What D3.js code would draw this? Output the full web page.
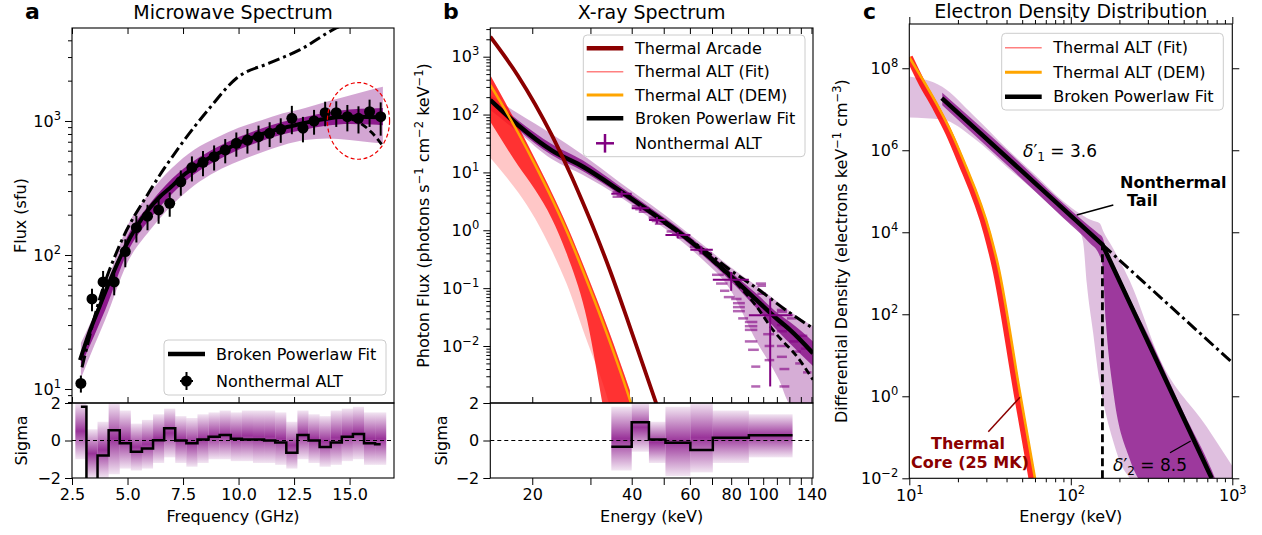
<!DOCTYPE html>
<html>
<head>
<meta charset="utf-8">
<script src="https://cdn.jsdelivr.net/npm/d3@7"></script>
<style>
  body { margin: 0; background: #fff; }
  text { font-family: "DejaVu Sans", sans-serif; fill: #000; }
</style>
</head>
<body>
<svg width="1262" height="535"></svg>
<script>
// ---------- panel a : microwave spectrum ----------
const mwFreq = [2.9, 3.4, 3.9, 4.4, 4.9, 5.4, 5.9, 6.4, 6.9, 7.4, 7.9, 8.4, 8.9, 9.4, 9.9, 10.4, 10.9, 11.4, 11.9, 12.4, 12.9, 13.4, 13.9, 14.4, 14.9, 15.4, 15.9, 16.4];
const mwFlux = [11, 47, 63, 63, 106, 160, 195, 217, 243, 352, 449, 492, 542, 608, 681, 721, 764, 809, 867, 1047, 883, 1000, 1153, 1153, 1077, 1047, 1173, 1077];
const mwErr  = [1.6, 9, 13, 13, 25, 36, 42, 46, 50, 75, 95, 105, 115, 125, 140, 150, 160, 170, 180, 250, 190, 210, 240, 250, 240, 240, 270, 300];
const mwResid = [1.8, -3, -0.8, 0.55, -0.15, -0.6, -0.42, 0.02, 0.65, 0.0, -0.15, 0.05, 0.2, 0.3, 0.1, 0.05, 0.05, 0.0, -0.1, -0.65, 0.3, 0.0, -0.35, -0.1, 0.2, 0.35, -0.15, -0.2];
const mwResLo = [-1.0, -2, -2, -1.8, -1.5, -1.6, -1.5, -1.2, -0.9, -1.2, -1.4, -1.2, -1.0, -1.0, -1.1, -1.1, -1.2, -1.2, -1.3, -1.5, -1.0, -1.2, -1.4, -1.3, -1.1, -1.0, -1.3, -1.3];
const mwResHi = [2, 0.6, 1.0, 2, 1.6, 0.9, 1.1, 1.4, 1.7, 1.3, 1.2, 1.4, 1.5, 1.6, 1.5, 1.6, 1.6, 1.6, 1.5, 1.0, 1.6, 1.4, 1.3, 1.6, 1.7, 1.8, 1.5, 1.5];

const mwFitFreq = [2.86, 3.3, 3.76, 4.3, 4.84, 5.41, 5.93, 6.46, 6.98, 7.43, 7.95, 8.4, 8.93, 9.46, 9.9, 10.43, 10.95, 11.4, 11.93, 12.45, 12.9, 13.43, 13.95, 14.4, 14.92, 15.37, 16.4];
const mwFitFlux = [16.4, 27, 42, 70, 110, 163, 217, 272, 324, 384, 443, 497, 557, 618, 673, 730, 787, 832, 882, 922, 961, 1005, 1040, 1066, 1077, 1077, 1066];
const mwAltFreq = [14.6, 15.4, 16.0, 16.5];
const mwAltFlux = [1070, 980, 820, 650];
const mwDashDotFreq = [2.95, 3.76, 4.66, 6.0, 7.36, 8.7, 9.92, 11.4, 12.75, 14.4, 14.8];
const mwDashDotFlux = [14.5, 48, 120, 300, 650, 1250, 2094, 2710, 3390, 4943, 5300];

const mwBandFreq = [2.9, 3.5, 4, 5, 6, 7, 8, 9, 10, 11, 12, 13, 14, 15, 16, 16.5];
const mwBandHi   = [22, 36, 58, 165, 290, 445, 610, 750, 890, 1010, 1140, 1250, 1400, 1550, 1720, 1800];
const mwBandLo   = [12, 21, 33, 88, 152, 235, 330, 420, 500, 580, 660, 720, 740, 720, 690, 680];
const mwCoreHi   = [19, 31, 51, 138, 240, 370, 505, 635, 760, 875, 985, 1070, 1160, 1220, 1240, 1250];
const mwCoreLo   = [15, 25, 39, 105, 185, 285, 400, 505, 610, 705, 795, 865, 925, 950, 940, 930];

// ---------- panel b : X-ray spectrum ----------
const arcadeE = [14.93, 18.1, 22.9, 26.3, 28.2, 31.0, 34.4, 39.0, 47.5];
const arcadeF = [2218, 470, 44.4, 8.5, 3.4, 0.93, 0.2, 0.0265, 0.001];
const demE = [14.93, 16.5, 18.14, 20.4, 22.9, 25.4, 28.9, 34.0, 39.5, 41];
const demF = [324, 125, 48, 13.5, 3.57, 0.98, 0.16, 0.0138, 0.00117, 0.0006];
const thFitE = [14.93, 16.5, 18.14, 20.4, 22.9, 25.4, 28.9, 34, 39.5];
const thFitHi = [480, 170, 62, 17, 4.5, 1.25, 0.21, 0.019, 0.0017];
const thFitCoreLo = [75, 30, 13, 5, 1.6, 0.4, 0.04, 0.0003, 0.00001];
const thFitLo = [18, 9, 4.5, 1.6, 0.45, 0.12, 0.015, 0.0011, 0.00003];

const bplE = [14.93, 18.1, 22.9, 28.5, 36.5, 46, 56, 66, 79, 95.5, 112, 120.5, 141.5];
const bplF = [178, 66, 24, 12.5, 5.0, 2.0, 0.9, 0.42, 0.17, 0.062, 0.027, 0.019, 0.0075];
const bplHi = [215, 105, 46, 20, 7.0, 2.7, 1.15, 0.55, 0.24, 0.11, 0.055, 0.04, 0.022];
const bplLo = [120, 50, 17, 9.0, 3.9, 1.55, 0.68, 0.3, 0.1, 0.012, 0.0025, 0.001, 0.0008];
const bplCoreHi = [200, 80, 31, 16, 6.0, 2.35, 1.05, 0.49, 0.2, 0.08, 0.035, 0.026, 0.012];
const bplCoreLo = [160, 56, 20, 10.5, 4.3, 1.75, 0.78, 0.36, 0.14, 0.045, 0.017, 0.011, 0.0045];
const xrDashDotE = [50, 60, 70, 80, 95.5, 117, 141.5];
const xrDashDotF = [1.35, 0.68, 0.36, 0.2, 0.1, 0.042, 0.0202];
const xrDashE = [70, 80, 95, 107, 129, 141.5];
const xrDashF = [0.3, 0.15, 0.05, 0.019, 0.0057, 0.0026];

// nonthermal ALT bins
const ntE0 = [34.7, 40, 45.1, 50.6, 60.2, 70.4, 90.5];
const ntE1 = [40, 45.1, 50.6, 60.2, 70.4, 90.5, 122.7];
const ntE  = [37.3, 42.5, 47.7, 55.1, 65, 80, 105];
const ntF  = [4.3, 2.4, 1.5, 0.83, 0.46, 0.14, 0.034];
const ntErr = [0.5, 0.25, 0.2, 0.1, 0.07, 0.05, 0.032];
const ntResid = [-0.33, 0.97, 0.06, -0.12, -0.5, 0.15, 0.28];
const ntResLo = [-1.6, -0.6, -1.2, -1.9, -1.7, -1.2, -0.9];
const ntResHi = [1.8, 2.0, 1.0, 1.8, 2.0, 1.6, 1.4];
// posterior sample dashes [E0, E1, flux]
const ntSamples = [
  [35, 38, 4.6], [36, 40, 4.0], [35, 37.5, 3.8], [40, 43, 2.6], [41, 45, 2.3], [42, 45, 2.1],
  [45, 48, 1.65], [46, 50.6, 1.45], [47, 50, 1.3], [51, 56, 0.95], [53, 58, 0.85], [55, 60, 0.75],
  [60, 65, 0.52], [62, 68, 0.46], [64, 70, 0.4], [70, 76, 0.17], [72, 78, 0.12], [74, 79, 0.09],
  [76, 82, 0.07], [80, 86, 0.065], [81, 88, 0.055], [81, 88, 0.047], [81, 88, 0.04], [84, 90, 0.03],
  [88, 96, 0.026], [88, 96, 0.022], [88, 96, 0.019], [88, 96, 0.012], [90, 97, 0.0086], [92, 98, 0.0044],
  [92, 98, 0.002], [95, 102, 0.12], [96, 102, 0.11], [96, 102, 0.08], [100, 108, 0.016], [101, 108, 0.01],
  [101, 108, 0.0057], [110, 118, 0.042], [110, 118, 0.039], [110, 118, 0.023], [110, 118, 0.018],
  [110, 118, 0.01], [110, 118, 0.0065], [112, 120, 0.004], [112, 120, 0.002], [118, 126, 0.03],
  [120, 128, 0.012], [122, 130, 0.008], [125, 132, 0.005], [128, 136, 0.015], [130, 138, 0.009], [132, 140, 0.0035]
];

// ---------- panel c : electron density (log10 values) ----------
const thCE = [10, 12.49, 15.1, 18.3, 21.6, 31.6, 35.6, 48.5, 60];
const thCRedE = [10, 12.0, 14.5, 17.6, 20.7, 30.3, 34.1, 46.5, 57.5];
const thCLog = [8.27, 7.634, 7.063, 6.415, 5.76, 3.976, 3.16, 0.073, -2];
const bpE = [15.9, 157, 745.6];
const bpLog = [7.27, 3.7, -2];
const bpExtE = [157, 1000];
const bpExtLog = [3.7, 0.82];
const breakE = 157;
const cBandE  = [10, 16, 25, 40, 60, 90, 114, 119.5, 125.5, 137.6, 150.9, 160, 180, 201.6, 232.8, 357, 694, 1000];
const cBandHi = [7.8, 7.55, 6.85, 6.05, 5.4, 4.75, 4.45, 4.4, 4.35, 4.28, 4.22, 4.0, 3.65, 3.3, 2.8, 0.9, -0.74, -1.7];
const cBandLo = [6.8, 6.75, 6.3, 5.6, 5.0, 4.35, 4.0, 3.73, 2.76, 1.54, 0.32, -0.2, -1.0, -1.6, -2.0, -2.5, -2.5, -2.5];
const cCoreE  = [16, 40, 90, 130, 150, 157, 165, 185, 230, 300, 500, 745, 800];
const cCoreHi = [7.4, 6.0, 4.7, 4.15, 3.95, 3.88, 3.6, 3.2, 2.4, 1.5, -0.4, -1.8, -2.1];
const cCoreLo = [7.1, 5.65, 4.35, 3.75, 3.45, 3.2, 1.8, 0.0, -1.5, -2.2, -2.2, -2.2, -2.2];

// ---------- ticks ----------
const aMajorY = [10, 100, 1000];
const aMinorY = [8, 9, 20, 30, 40, 50, 60, 70, 80, 90, 200, 300, 400, 500, 600, 700, 800, 900, 2000, 3000, 4000];
const aTicksX = [2.5, 5, 7.5, 10, 12.5, 15];
const resTicks = [-2, 0, 2];
const bMajorY = [0.01, 0.1, 1, 10, 100, 1000];
const bMinorY = [0.002, 0.003, 0.004, 0.005, 0.006, 0.007, 0.008, 0.009, 0.02, 0.03, 0.04, 0.05, 0.06, 0.07, 0.08, 0.09,
  0.2, 0.3, 0.4, 0.5, 0.6, 0.7, 0.8, 0.9, 2, 3, 4, 5, 6, 7, 8, 9, 20, 30, 40, 50, 60, 70, 80, 90, 200, 300, 400, 500, 600, 700, 800, 900, 2000, 3000];
const bTicksX = [20, 30, 40, 50, 60, 70, 80, 90, 100, 110, 120, 130, 140];
const bLabelsX = [20, 40, 60, 80, 100, 140];
const cMajorY = [0.01, 1, 100, 1e4, 1e6, 1e8];
const cMajorX = [10, 100, 1000];
const cMinorX = [20, 30, 40, 50, 60, 70, 80, 90, 200, 300, 400, 500, 600, 700, 800, 900];

// ---------- layout ----------
const svg = d3.select("svg");
const purple = "#800080";
const A = { x0: 72, x1: 394, y0: 28, y1: 403, r0: 403, r1: 478 };
const B = { x0: 490.3, x1: 813, y0: 28, y1: 403, r0: 403, r1: 478 };
const C = { x0: 909.3, x1: 1232.3, y0: 24, y1: 478.3 };

const xA = d3.scaleLinear().domain([2.5, 17]).range([A.x0, A.x1]);
const yA = d3.scaleLog().domain([7.86, 4943]).range([A.y1, A.y0]);
const yRes = d3.scaleLinear().domain([-2, 2]).range([A.r1, A.r0]);
const xB = d3.scaleLog().domain([14.93, 141.5]).range([B.x0, B.x1]);
const yB = d3.scaleLog().domain([1.035e-3, 3133]).range([B.y1, B.y0]);
const xC = d3.scaleLog().domain([10, 1000]).range([C.x0, C.x1]);
const yC = d3.scaleLog().domain([1e-2, 1.2e9]).range([C.y1, C.y0]);

const defs = svg.append("defs");
const grad = defs.append("linearGradient").attr("id", "resGrad")
  .attr("x1", 0).attr("y1", 0).attr("x2", 0).attr("y2", 1);
grad.append("stop").attr("offset", "0%").attr("stop-color", purple).attr("stop-opacity", 0.1);
grad.append("stop").attr("offset", "50%").attr("stop-color", purple).attr("stop-opacity", 0.8);
grad.append("stop").attr("offset", "100%").attr("stop-color", purple).attr("stop-opacity", 0.1);

function clipped(id, x0, y0, x1, y1) {
  defs.append("clipPath").attr("id", id).append("rect")
    .attr("x", x0).attr("y", y0).attr("width", x1 - x0).attr("height", y1 - y0);
  return svg.append("g").attr("clip-path", `url(#${id})`);
}

function axis(orient, scale, pos, values, size, fmt) {
  const maker = { left: d3.axisLeft, right: d3.axisRight, top: d3.axisTop, bottom: d3.axisBottom }[orient];
  const ax = maker(scale).tickValues(values).tickSize(size).tickPadding(4).tickFormat(fmt || (() => ""));
  const vertical = orient === "left" || orient === "right";
  const g = svg.append("g")
    .attr("transform", vertical ? `translate(${pos},0)` : `translate(0,${pos})`)
    .call(ax)
    .attr("font-family", "DejaVu Sans").attr("font-size", 16);
  g.select(".domain").remove();
  g.selectAll(".tick line").attr("stroke", "#000").attr("stroke-width", 1);
  g.selectAll(".tick text").attr("fill", "#000");
  return g;
}

function powLabels(g) {
  g.selectAll(".tick text").each(function (d) {
    const t = d3.select(this);
    const e = Math.round(Math.log10(d));
    t.text("10");
    t.append("tspan").attr("dy", -7).attr("font-size", 11.5).text(e < 0 ? "\u2212" + (-e) : e);
  });
}

function frame(x0, y0, x1, y1) {
  svg.append("rect").attr("x", x0).attr("y", y0).attr("width", x1 - x0).attr("height", y1 - y0)
    .attr("fill", "none").attr("stroke", "#000").attr("stroke-width", 1.1);
}

function vlabel(txt, cx, cy) {
  return svg.append("text").attr("transform", `translate(${cx},${cy}) rotate(-90)`)
    .attr("text-anchor", "middle").attr("dy", "0.35em").attr("font-size", 16).text(txt);
}

function legendBox(x, y, w, h) {
  svg.append("rect").attr("x", x).attr("y", y).attr("width", w).attr("height", h).attr("rx", 4)
    .attr("fill", "#fff").attr("fill-opacity", 0.85).attr("stroke", "#ccc").attr("stroke-width", 1);
}

function legendText(x, y, txt) {
  svg.append("text").attr("x", x).attr("y", y).attr("dy", "0.36em").attr("font-size", 16).text(txt);
}

// ================= panel a =================
const gA = clipped("clipA", A.x0, A.y0, A.x1, A.y1);
const bandA = d3.area().x(d => xA(d[0])).y0(d => yA(d[1])).y1(d => yA(d[2])).curve(d3.curveMonotoneX);
const lineA = d3.line().x(d => xA(d[0])).y(d => yA(d[1])).curve(d3.curveMonotoneX);

gA.append("path").datum(d3.zip(mwBandFreq, mwBandLo, mwBandHi)).attr("d", bandA)
  .attr("fill", purple).attr("fill-opacity", 0.35);
gA.append("path").datum(d3.zip(mwBandFreq, mwCoreLo, mwCoreHi)).attr("d", bandA)
  .attr("fill", purple).attr("fill-opacity", 0.85);
gA.append("path").datum(d3.zip(mwDashDotFreq, mwDashDotFlux)).attr("d", lineA)
  .attr("fill", "none").attr("stroke", "#000").attr("stroke-width", 3).attr("stroke-dasharray", "12,4,3,4");
gA.append("path").datum(d3.zip(mwFitFreq, mwFitFlux)).attr("d", lineA)
  .attr("fill", "none").attr("stroke", "#000").attr("stroke-width", 4);
gA.append("path").datum(d3.zip(mwAltFreq, mwAltFlux)).attr("d", lineA)
  .attr("fill", "none").attr("stroke", "#000").attr("stroke-width", 2.8).attr("stroke-dasharray", "7,4");

gA.selectAll(".err").data(d3.range(mwFreq.length)).enter().append("line")
  .attr("x1", i => xA(mwFreq[i])).attr("x2", i => xA(mwFreq[i]))
  .attr("y1", i => yA(mwFlux[i] + mwErr[i])).attr("y2", i => yA(Math.max(mwFlux[i] - mwErr[i], 1)))
  .attr("stroke", "#000").attr("stroke-width", 2);
gA.selectAll(".pt").data(d3.range(mwFreq.length)).enter().append("circle")
  .attr("cx", i => xA(mwFreq[i])).attr("cy", i => yA(mwFlux[i])).attr("r", 5.5).attr("fill", "#000");

svg.append("ellipse")
  .attr("cx", (xA(14.0) + xA(16.8)) / 2).attr("cy", (yA(518) + yA(1935)) / 2)
  .attr("rx", (xA(16.8) - xA(14.0)) / 2).attr("ry", (yA(518) - yA(1935)) / 2)
  .attr("fill", "none").attr("stroke", "#e00").attr("stroke-width", 1.2).attr("stroke-dasharray", "4,2.5");

// residual a
const gAr = clipped("clipAr", A.x0, A.r0, A.x1, A.r1);
gAr.selectAll(".tile").data(d3.range(mwFreq.length)).enter().append("rect")
  .attr("x", i => xA(mwFreq[i] - 0.25)).attr("width", i => xA(mwFreq[i] + 0.25) - xA(mwFreq[i] - 0.25))
  .attr("y", i => yRes(mwResHi[i])).attr("height", i => yRes(mwResLo[i]) - yRes(mwResHi[i]))
  .attr("fill", "url(#resGrad)");
gAr.append("line").attr("x1", A.x0).attr("x2", A.x1).attr("y1", yRes(0)).attr("y2", yRes(0))
  .attr("stroke", "#000").attr("stroke-width", 1).attr("stroke-dasharray", "4,3");
gAr.append("path").datum(d3.zip(mwFreq, mwResid))
  .attr("d", d3.line().x(d => xA(d[0])).y(d => yRes(d[1])).curve(d3.curveStep))
  .attr("fill", "none").attr("stroke", "#000").attr("stroke-width", 2.5);

frame(A.x0, A.y0, A.x1, A.y1);
frame(A.x0, A.r0, A.x1, A.r1);
powLabels(axis("left", yA, A.x0, aMajorY, 7, () => "10"));
axis("left", yA, A.x0, aMinorY, 4);
axis("top", xA, A.y0, aTicksX, -6);
axis("bottom", xA, A.y1, aTicksX, -6);
axis("left", yRes, A.x0, resTicks, 7, d3.format("d"));
axis("bottom", xA, A.r1, aTicksX, 7, d3.format(".1f"));

legendBox(164, 340, 222, 55);
svg.append("line").attr("x1", 168).attr("x2", 205).attr("y1", 354).attr("y2", 354).attr("stroke", "#000").attr("stroke-width", 4.5);
legendText(216, 354, "Broken Powerlaw Fit");
svg.append("line").attr("x1", 186.5).attr("x2", 186.5).attr("y1", 372).attr("y2", 390).attr("stroke", "#000").attr("stroke-width", 2);
svg.append("line").attr("x1", 180).attr("x2", 193).attr("y1", 381).attr("y2", 381).attr("stroke", "#000").attr("stroke-width", 2);
svg.append("circle").attr("cx", 186.5).attr("cy", 381).attr("r", 5.5).attr("fill", "#000");
legendText(216, 381, "Nonthermal ALT");

svg.append("text").attr("x", 25).attr("y", 19).attr("font-size", 22).attr("font-weight", "bold").text("a");
svg.append("text").attr("x", (A.x0 + A.x1) / 2).attr("y", 19).attr("text-anchor", "middle").attr("font-size", 19).text("Microwave Spectrum");
vlabel("Flux (sfu)", 20, (A.y0 + A.y1) / 2);
vlabel("Sigma", 21.5, (A.r0 + A.r1) / 2);
svg.append("text").attr("x", (A.x0 + A.x1) / 2).attr("y", 522).attr("text-anchor", "middle").attr("font-size", 16).text("Frequency (GHz)");

// ================= panel b =================
const gB = clipped("clipB", B.x0, B.y0, B.x1, B.y1);
const bandB = d3.area().x(d => xB(d[0])).y0(d => yB(d[1])).y1(d => yB(d[2])).curve(d3.curveMonotoneX);
const lineB = d3.line().x(d => xB(d[0])).y(d => yB(d[1])).curve(d3.curveMonotoneX);

gB.append("path").datum(d3.zip(bplE, bplLo, bplHi)).attr("d", bandB).attr("fill", purple).attr("fill-opacity", 0.32);
gB.append("path").datum(d3.zip(bplE, bplCoreLo, bplCoreHi)).attr("d", bandB).attr("fill", purple).attr("fill-opacity", 0.75);
gB.append("path").datum(d3.zip(thFitE, thFitLo, thFitHi)).attr("d", bandB).attr("fill", "#ff0000").attr("fill-opacity", 0.22);
gB.append("path").datum(d3.zip(thFitE, thFitCoreLo, thFitHi)).attr("d", bandB).attr("fill", "#ff0000").attr("fill-opacity", 0.75);

gB.selectAll(".samp").data(ntSamples).enter().append("line")
  .attr("x1", d => xB(d[0])).attr("x2", d => xB(d[1])).attr("y1", d => yB(d[2])).attr("y2", d => yB(d[2]))
  .attr("stroke", purple).attr("stroke-opacity", 0.6).attr("stroke-width", 2.5);

gB.append("path").datum(d3.zip(bplE, bplF)).attr("d", lineB)
  .attr("fill", "none").attr("stroke", "#000").attr("stroke-width", 4.5);
gB.append("path").datum(d3.zip(xrDashDotE, xrDashDotF)).attr("d", lineB)
  .attr("fill", "none").attr("stroke", "#000").attr("stroke-width", 3).attr("stroke-dasharray", "12,4,3,4");
gB.append("path").datum(d3.zip(xrDashE, xrDashF)).attr("d", lineB)
  .attr("fill", "none").attr("stroke", "#000").attr("stroke-width", 2.8).attr("stroke-dasharray", "7,4");
gB.append("path").datum(d3.zip(demE, demF)).attr("d", lineB)
  .attr("fill", "none").attr("stroke", "#ffa500").attr("stroke-width", 2.5);
gB.append("path").datum(d3.zip(arcadeE, arcadeF)).attr("d", lineB)
  .attr("fill", "none").attr("stroke", "#8b0000").attr("stroke-width", 3.8);

const crosses = d3.range(ntE.length);
gB.selectAll(".xh").data(crosses).enter().append("line")
  .attr("x1", i => xB(ntE0[i])).attr("x2", i => xB(ntE1[i])).attr("y1", i => yB(ntF[i])).attr("y2", i => yB(ntF[i]))
  .attr("stroke", purple).attr("stroke-width", 2);
gB.selectAll(".xv").data(crosses).enter().append("line")
  .attr("x1", i => xB(ntE[i])).attr("x2", i => xB(ntE[i]))
  .attr("y1", i => yB(ntF[i] + ntErr[i])).attr("y2", i => yB(Math.max(ntF[i] - ntErr[i], 1e-4)))
  .attr("stroke", purple).attr("stroke-width", 2);

// residual b
const gBr = clipped("clipBr", B.x0, B.r0, B.x1, B.r1);
gBr.selectAll(".tile").data(crosses).enter().append("rect")
  .attr("x", i => xB(ntE0[i])).attr("width", i => xB(ntE1[i]) - xB(ntE0[i]))
  .attr("y", i => yRes(ntResHi[i])).attr("height", i => yRes(ntResLo[i]) - yRes(ntResHi[i]))
  .attr("fill", "url(#resGrad)");
gBr.append("line").attr("x1", B.x0).attr("x2", B.x1).attr("y1", yRes(0)).attr("y2", yRes(0))
  .attr("stroke", "#000").attr("stroke-width", 1).attr("stroke-dasharray", "4,3");
gBr.append("path").datum(d3.zip(ntE0.concat([ntE1[ntE1.length - 1]]), ntResid.concat([ntResid[ntResid.length - 1]])))
  .attr("d", d3.line().x(d => xB(d[0])).y(d => yRes(d[1])).curve(d3.curveStepAfter))
  .attr("fill", "none").attr("stroke", "#000").attr("stroke-width", 2.5);

frame(B.x0, B.y0, B.x1, B.y1);
frame(B.x0, B.r0, B.x1, B.r1);
powLabels(axis("left", yB, B.x0, bMajorY, 7, () => "10"));
axis("left", yB, B.x0, bMinorY, 4);
axis("top", xB, B.y0, bTicksX, -6);
axis("bottom", xB, B.y1, bTicksX, -6);
axis("left", yRes, B.x0, resTicks, 7, d3.format("d"));
axis("bottom", xB, B.r1, bTicksX, 7, d => bLabelsX.includes(d) ? d : "");

legendBox(583.3, 35, 221.7, 121.7);
const legB = [
  { y: 48.3, c: "#8b0000", w: 4.5, t: "Thermal Arcade" },
  { y: 71.7, c: "#ff8080", w: 1.6, t: "Thermal ALT (Fit)" },
  { y: 95, c: "#ffa500", w: 3, t: "Thermal ALT (DEM)" },
  { y: 118.3, c: "#000", w: 4.5, t: "Broken Powerlaw Fit" }
];
legB.forEach(d => {
  svg.append("line").attr("x1", 586.7).attr("x2", 623.3).attr("y1", d.y).attr("y2", d.y).attr("stroke", d.c).attr("stroke-width", d.w);
  legendText(635, d.y, d.t);
});
svg.append("line").attr("x1", 596).attr("x2", 614).attr("y1", 143.3).attr("y2", 143.3).attr("stroke", purple).attr("stroke-width", 2.5);
svg.append("line").attr("x1", 605).attr("x2", 605).attr("y1", 134).attr("y2", 152.6).attr("stroke", purple).attr("stroke-width", 2.5);
legendText(635, 143.3, "Nonthermal ALT");

svg.append("text").attr("x", 443).attr("y", 19).attr("font-size", 22).attr("font-weight", "bold").text("b");
svg.append("text").attr("x", (B.x0 + B.x1) / 2).attr("y", 19).attr("text-anchor", "middle").attr("font-size", 19).text("X-ray Spectrum");
const ybl = vlabel("", 423, (B.y0 + B.y1) / 2);
ybl.append("tspan").text("Photon Flux (photons s");
ybl.append("tspan").attr("dy", -6).attr("font-size", 11.5).text("\u22121");
ybl.append("tspan").attr("dy", 6).text(" cm");
ybl.append("tspan").attr("dy", -6).attr("font-size", 11.5).text("\u22122");
ybl.append("tspan").attr("dy", 6).text(" keV");
ybl.append("tspan").attr("dy", -6).attr("font-size", 11.5).text("\u22121");
ybl.append("tspan").attr("dy", 6).text(")");
vlabel("Sigma", 441, (B.r0 + B.r1) / 2);
svg.append("text").attr("x", (B.x0 + B.x1) / 2).attr("y", 522).attr("text-anchor", "middle").attr("font-size", 16).text("Energy (keV)");

// ================= panel c =================
const gC = clipped("clipC", C.x0, C.y0, C.x1, C.y1);
const bandC = d3.area().x(d => xC(d[0])).y0(d => yC(10 ** d[1])).y1(d => yC(10 ** d[2])).curve(d3.curveMonotoneX);
const lineC = d3.line().x(d => xC(d[0])).y(d => yC(10 ** d[1]));

gC.append("path").datum(d3.zip(cBandE, cBandLo, cBandHi)).attr("d", bandC).attr("fill", purple).attr("fill-opacity", 0.25);
gC.append("path").datum(d3.zip(cCoreE, cCoreLo, cCoreHi)).attr("d", bandC).attr("fill", purple).attr("fill-opacity", 0.7);
gC.append("path").datum(d3.zip(thCRedE, thCLog)).attr("d", lineC.curve(d3.curveMonotoneX))
  .attr("fill", "none").attr("stroke", "#ff0000").attr("stroke-width", 7).attr("stroke-opacity", 0.85);
gC.append("path").datum(d3.zip(thCE, thCLog)).attr("d", lineC.curve(d3.curveMonotoneX))
  .attr("fill", "none").attr("stroke", "#ffa500").attr("stroke-width", 2.6);
gC.append("path").datum(d3.zip(bpE, bpLog)).attr("d", lineC.curve(d3.curveLinear))
  .attr("fill", "none").attr("stroke", "#000").attr("stroke-width", 4.5);
gC.append("path").datum(d3.zip(bpExtE, bpExtLog)).attr("d", lineC.curve(d3.curveLinear))
  .attr("fill", "none").attr("stroke", "#000").attr("stroke-width", 3).attr("stroke-dasharray", "12,4,3,4");
gC.append("line").attr("x1", xC(breakE)).attr("x2", xC(breakE)).attr("y1", yC(1e-2)).attr("y2", yC(10 ** bpLog[1]))
  .attr("stroke", "#000").attr("stroke-width", 2.8).attr("stroke-dasharray", "8,4");

frame(C.x0, C.y0, C.x1, C.y1);
powLabels(axis("left", yC, C.x0, cMajorY, 7, () => "10"));
axis("right", yC, C.x1, cMajorY, 7);
axis("top", xC, C.y0, cMajorX, 7);
axis("top", xC, C.y0, cMinorX, 4);
powLabels(axis("bottom", xC, C.y1, cMajorX, 7, () => "10"));
axis("bottom", xC, C.y1, cMinorX, 4);

legendBox(1001.7, 33.3, 221.6, 76.7);
const legC = [
  { y: 47.7, c: "#ff8080", w: 1.6, t: "Thermal ALT (Fit)" },
  { y: 72.3, c: "#ffa500", w: 3, t: "Thermal ALT (DEM)" },
  { y: 96.7, c: "#000", w: 4.5, t: "Broken Powerlaw Fit" }
];
legC.forEach(d => {
  svg.append("line").attr("x1", 1005).attr("x2", 1041.7).attr("y1", d.y).attr("y2", d.y).attr("stroke", d.c).attr("stroke-width", d.w);
  legendText(1053.3, d.y, d.t);
});

// annotations
const d1 = svg.append("text").attr("x", 1023).attr("y", 157).attr("font-size", 17);
d1.append("tspan").attr("font-style", "italic").text("\u03b4");
d1.append("tspan").text("\u2032");
d1.append("tspan").attr("font-size", 12).attr("dy", 4).text("1");
d1.append("tspan").attr("dy", -4).text(" = 3.6");
const d2 = svg.append("text").attr("x", 1113).attr("y", 471).attr("font-size", 17);
d2.append("tspan").attr("font-style", "italic").text("\u03b4");
d2.append("tspan").text("\u2032");
d2.append("tspan").attr("font-size", 12).attr("dy", 4).text("2");
d2.append("tspan").attr("dy", -4).text(" = 8.5");
svg.append("line").attr("x1", 1170).attr("y1", 452.7).attr("x2", 1190.7).attr("y2", 441).attr("stroke", "#000").attr("stroke-width", 1.3);

svg.append("text").attr("x", 1120).attr("y", 187.5).attr("font-size", 16).attr("font-weight", "bold").text("Nonthermal");
svg.append("text").attr("x", 1127).attr("y", 206).attr("font-size", 16).attr("font-weight", "bold").text("Tail");
svg.append("line").attr("x1", 1076.7).attr("y1", 215).attr("x2", 1113.3).attr("y2", 205).attr("stroke", "#000").attr("stroke-width", 1.5);

svg.append("text").attr("x", 968).attr("y", 449).attr("text-anchor", "middle").attr("font-size", 16).attr("font-weight", "bold").style("fill", "#8b0000").text("Thermal");
svg.append("text").attr("x", 970).attr("y", 468).attr("text-anchor", "middle").attr("font-size", 16).attr("font-weight", "bold").style("fill", "#8b0000").text("Core (25 MK)");
svg.append("line").attr("x1", 988.3).attr("y1", 431.7).attr("x2", 1020).attr("y2", 397.3).attr("stroke", "#8b0000").attr("stroke-width", 1.5);

svg.append("text").attr("x", 863).attr("y", 19).attr("font-size", 22).attr("font-weight", "bold").text("c");
svg.append("text").attr("x", (C.x0 + C.x1) / 2).attr("y", 18).attr("text-anchor", "middle").attr("font-size", 19).text("Electron Density Distribution");
const ycl = vlabel("", 841, (C.y0 + C.y1) / 2);
ycl.append("tspan").text("Differential Density (electrons keV");
ycl.append("tspan").attr("dy", -6).attr("font-size", 11.5).text("\u22121");
ycl.append("tspan").attr("dy", 6).text(" cm");
ycl.append("tspan").attr("dy", -6).attr("font-size", 11.5).text("\u22123");
ycl.append("tspan").attr("dy", 6).text(")");
svg.append("text").attr("x", (C.x0 + C.x1) / 2).attr("y", 522).attr("text-anchor", "middle").attr("font-size", 16).text("Energy (keV)");
</script>
</body>
</html>
